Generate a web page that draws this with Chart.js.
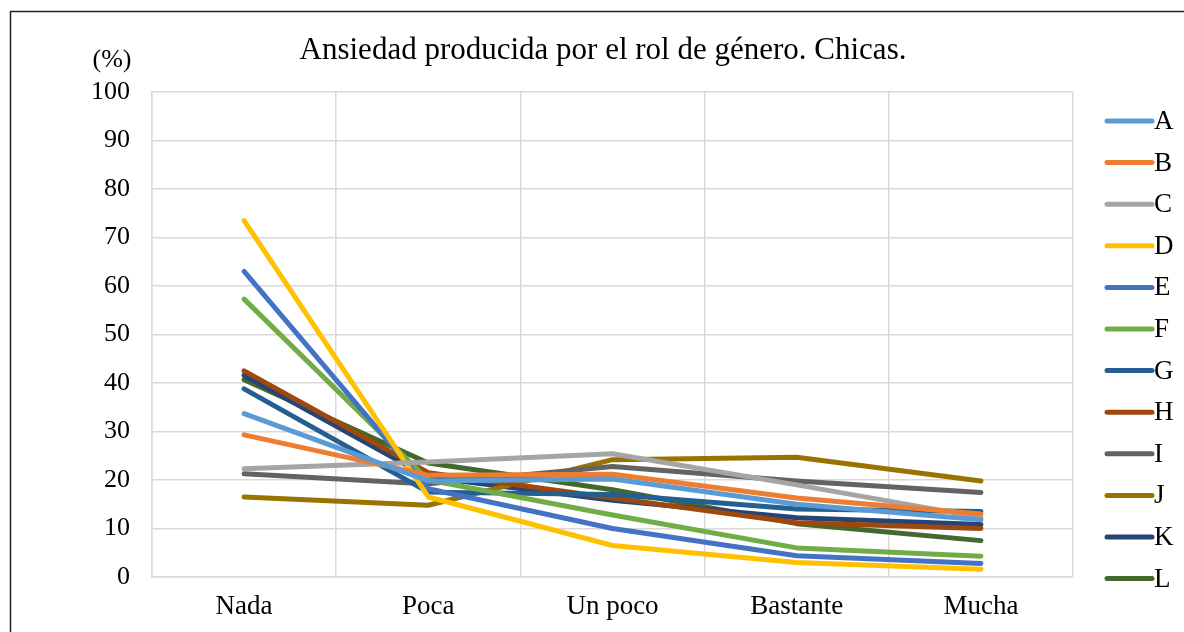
<!DOCTYPE html>
<html>
<head>
<meta charset="utf-8">
<script src="https://cdn.jsdelivr.net/npm/chart.js@4/dist/chart.umd.min.js"></script>
<style>
  html, body { margin: 0; padding: 0; background: #fff; }
  #wrap { width: 1184px; height: 632px; position: relative; }
</style>
</head>
<body>
<div id="wrap"><canvas id="c" width="1184" height="632"></canvas></div>
<script>
// Response categories (x axis)
const categories = ['Nada', 'Poca', 'Un poco', 'Bastante', 'Mucha'];

// Percentage of girls per item, one array per item
const serieA = [33.7, 19.8, 20.2, 15.0, 11.8];
const serieB = [29.3, 21.0, 21.2, 16.3, 13.0];
const serieC = [22.3, 23.7, 25.4, 19.0, 12.3];
const serieD = [73.5, 16.5, 6.5, 3.0, 1.6];
const serieE = [63.0, 18.2, 10.0, 4.4, 2.8];
const serieF = [57.3, 20.0, 12.8, 6.0, 4.3];
const serieG = [38.8, 17.5, 17.0, 14.0, 13.5];
const serieH = [42.5, 21.5, 16.3, 11.2, 10.0];
const serieI = [21.3, 19.2, 22.8, 19.8, 17.4];
const serieJ = [16.5, 14.8, 24.2, 24.7, 19.8];
const serieK = [41.6, 20.6, 15.8, 12.2, 10.8];
const serieL = [40.7, 23.5, 18.0, 11.0, 7.5];

const seriesNames = ['A', 'B', 'C', 'D', 'E', 'F', 'G', 'H', 'I', 'J', 'K', 'L'];
const seriesValues = [serieA, serieB, serieC, serieD, serieE, serieF,
                      serieG, serieH, serieI, serieJ, serieK, serieL];
const seriesColors = ['#5B9BD5', '#ED7D31', '#A5A5A5', '#FFC000', '#4472C4', '#70AD47',
                      '#255E91', '#9E480E', '#636363', '#997300', '#264478', '#43682B'];

const titleText = 'Ansiedad producida por el rol de género. Chicas.';
const unitText = '(%)';
const FONT = '"Liberation Serif", "DejaVu Serif", serif';

// Frame, title, unit label and legend drawn around the plot
const decorations = {
  id: 'decorations',
  beforeDraw(chart) {
    const ctx = chart.ctx;
    ctx.save();
    ctx.fillStyle = '#fff';
    ctx.fillRect(0, 0, chart.width, chart.height);
    ctx.strokeStyle = '#222';
    ctx.lineWidth = 1.5;
    ctx.beginPath();
    ctx.moveTo(10.5, chart.height);
    ctx.lineTo(10.5, 11.5);
    ctx.lineTo(chart.width, 11.5);
    ctx.stroke();
    ctx.restore();
  },
  afterDraw(chart) {
    const ctx = chart.ctx;
    ctx.save();
    ctx.fillStyle = '#000';
    ctx.textBaseline = 'middle';
    ctx.textAlign = 'center';
    ctx.font = '31px ' + FONT;
    ctx.fillText(titleText, 603, 51);
    ctx.font = '26px ' + FONT;
    ctx.fillText(unitText, 112, 60);

    // legend
    const ds = chart.data.datasets;
    const x0 = 1107, x1 = 1152, yStart = 121, step = 41.6;
    ds.forEach((d, i) => {
      const y = yStart + i * step;
      ctx.strokeStyle = d.borderColor;
      ctx.lineWidth = 5;
      ctx.lineCap = 'round';
      ctx.beginPath();
      ctx.moveTo(x0, y);
      ctx.lineTo(x1, y);
      ctx.stroke();
      ctx.fillStyle = '#000';
      ctx.textAlign = 'left';
      ctx.font = '27px ' + FONT;
      ctx.fillText(d.label, 1154, y + 1);
    });
    ctx.restore();
  }
};

new Chart(document.getElementById('c'), {
  type: 'line',
  data: {
    labels: categories,
    datasets: seriesNames.map((name, i) => ({
      label: name,
      data: seriesValues[i],
      borderColor: seriesColors[i],
      backgroundColor: seriesColors[i],
      borderWidth: 5,
      borderCapStyle: 'round',
      borderJoinStyle: 'round',
      pointRadius: 0,
      tension: 0,
      fill: false
    }))
  },
  options: {
    responsive: false,
    animation: false,
    devicePixelRatio: 1,
    layout: { padding: { top: 92, right: 111, bottom: 0, left: 0 } },
    plugins: {
      legend: { display: false },
      title: { display: false },
      tooltip: { enabled: false }
    },
    scales: {
      x: {
        offset: true,
        grid: { offset: true, color: '#d9d9d9', lineWidth: 1.5, drawTicks: false },
        border: { color: '#d9d9d9', width: 1.5 },
        ticks: { color: '#000', font: { family: FONT, size: 27 }, padding: 14, maxRotation: 0 },
        afterFit(scale) { scale.height = 55; }
      },
      y: {
        min: 0,
        max: 100,
        ticks: { stepSize: 10, color: '#000', font: { family: FONT, size: 26 }, padding: 22 },
        grid: { color: '#d9d9d9', lineWidth: 1.5, drawTicks: false },
        border: { color: '#d9d9d9', width: 1.5 },
        afterFit(scale) { scale.width = 152; }
      }
    }
  },
  plugins: [decorations]
});
</script>
</body>
</html>
